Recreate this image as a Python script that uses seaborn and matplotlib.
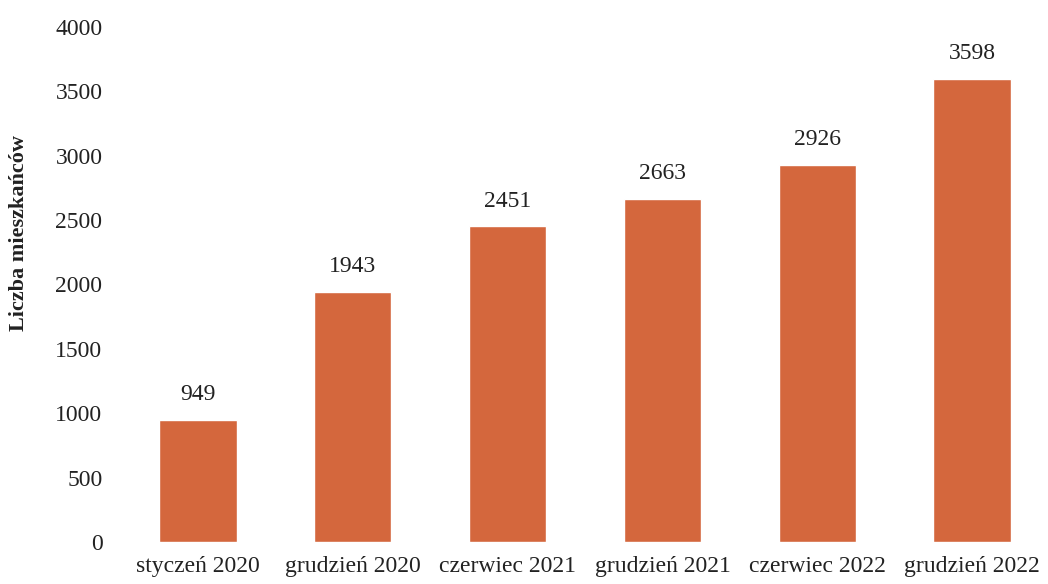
import matplotlib
matplotlib.use("Agg")
import matplotlib.pyplot as plt
import seaborn as sns
import pandas as pd

okresy = ["styczeń 2020", "grudzień 2020", "czerwiec 2021", "grudzień 2021", "czerwiec 2022", "grudzień 2022"]
mieszkancy = [949, 1943, 2451, 2663, 2926, 3598]
yticks = [0, 500, 1000, 1500, 2000, 2500, 3000, 3500, 4000]

sns.set_style("white")
plt.rcParams['font.family'] = ['Liberation Serif', 'DejaVu Serif']

df = pd.DataFrame({"okres": okresy, "liczba": mieszkancy})

fig = plt.figure(figsize=(10.48, 5.84), dpi=100)
ax = fig.add_axes([0.115, 0.072, 0.885, 0.882])
sns.barplot(data=df, x="okres", y="liczba", color="#d4673d", saturation=1, width=0.5, ax=ax)

# etykiety nad slupkami
for i, v in enumerate(mieszkancy):
    ax.text(i, v + 115, str(v), ha="center", va="bottom", fontsize=17, color="#222222")

ax.set_ylim(0, 4000)
ax.set_xlim(-0.5, 5.49)
ax.set_yticks(yticks)
ax.set_yticklabels([str(t) for t in yticks])
ax.tick_params(axis="both", labelsize=17, colors="#222222", length=0)
ax.tick_params(axis="y", pad=13)
ax.tick_params(axis="x", pad=10)
ax.set_xlabel("")
ax.set_ylabel("Liczba mieszkańców", fontsize=16, fontweight="bold", color="#222222")
ax.yaxis.set_label_coords(-0.099, 0.6)
sns.despine(left=True, bottom=True)

fig.savefig("out.png", dpi=100)
